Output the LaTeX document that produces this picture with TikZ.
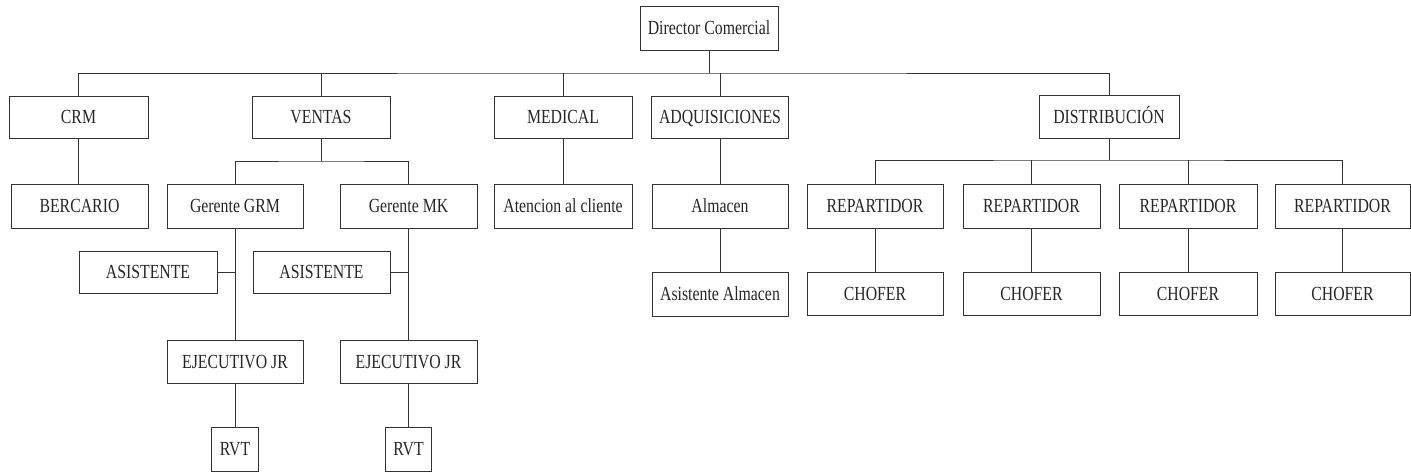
\documentclass[tikz,border=0pt]{standalone}
\usepackage{fontspec}
\setmainfont{Liberation Serif}[FakeStretch=0.79]
\begin{document}
\begin{tikzpicture}[x=1pt,y=-1pt,
  box/.style={draw=black!80, line width=0.9pt, minimum height=43pt, inner sep=0pt,
    text height=13.2pt, text depth=0pt,
    font=\fontsize{20}{22}\selectfont, text=black!85},
  conn/.style={draw=black!80, line width=0.9pt}]
\useasboundingbox (0,0) rectangle (1411,472);
% level 0
\node[box, minimum width=138pt, minimum height=44pt] (dir) at (709,28) {Director Comercial};
% level 1
\node[box, minimum width=139pt, minimum height=42pt] (crm) at (78.5,117) {CRM};
\node[box, minimum width=138pt, minimum height=42pt] (ventas) at (321,117) {VENTAS};
\node[box, minimum width=138pt, minimum height=42pt] (medical) at (563,117) {MEDICAL};
\node[box, minimum width=137pt, minimum height=42pt] (adq) at (720,117) {ADQUISICIONES};
\node[box, minimum width=140pt, minimum height=43pt] (dist) at (1109,116.5) {DISTRIBUCIÓN};
% level 2
\node[box, minimum width=137pt, minimum height=44pt] (bercario) at (79.5,206) {BERCARIO};
\node[box, minimum width=136pt, minimum height=44pt] (grm) at (235,206) {Gerente GRM};
\node[box, minimum width=137pt, minimum height=44pt] (mk) at (408.5,206) {Gerente MK};
\node[box, minimum width=138pt, minimum height=44pt] (atencion) at (563,206) {Atencion al cliente};
\node[box, minimum width=136pt, minimum height=44pt] (almacen) at (720,206) {Almacen};
\node[box, minimum width=136pt, minimum height=44pt] (rep1) at (875,206) {REPARTIDOR};
\node[box, minimum width=137pt, minimum height=44pt] (rep2) at (1031.5,206) {REPARTIDOR};
\node[box, minimum width=138pt, minimum height=44pt] (rep3) at (1188,206) {REPARTIDOR};
\node[box, minimum width=135pt, minimum height=44pt] (rep4) at (1342.5,206) {REPARTIDOR};
% level 3
\node[box, minimum width=138pt, minimum height=42pt] (asis1) at (148,272) {ASISTENTE};
\node[box, minimum width=137pt, minimum height=42pt] (asis2) at (321.5,272) {ASISTENTE};
\node[box, minimum width=136pt, minimum height=44pt] (asalm) at (720,294) {Asistente Almacen};
\node[box, minimum width=136pt, minimum height=43pt] (ch1) at (875,293.5) {CHOFER};
\node[box, minimum width=137pt, minimum height=43pt] (ch2) at (1031.5,293.5) {CHOFER};
\node[box, minimum width=138pt, minimum height=43pt] (ch3) at (1188,293.5) {CHOFER};
\node[box, minimum width=135pt, minimum height=43pt] (ch4) at (1342.5,293.5) {CHOFER};
% level 4
\node[box, minimum width=136pt, minimum height=43pt] (ej1) at (235,361.5) {EJECUTIVO JR};
\node[box, minimum width=137pt, minimum height=43pt] (ej2) at (408.5,361.5) {EJECUTIVO JR};
% level 5
\node[box, minimum width=47pt, minimum height=44pt] (rvt1) at (235,449) {RVT};
\node[box, minimum width=46pt, minimum height=44pt] (rvt2) at (408.5,449) {RVT};
% buses
\coordinate (bus) at (709,73);
\coordinate (vbus) at (321,161);
\coordinate (dbus) at (1109,160);
% connectors
\draw[conn] (dir.south) -- (bus);
\draw[conn] (crm.north) |- (bus) -| (dist.north);
\draw[conn] (ventas.north) -- (ventas.north |- bus);
\draw[conn] (medical.north) -- (medical.north |- bus);
\draw[conn] (adq.north) -- (adq.north |- bus);
\draw[conn] (crm.south) -- (crm.south |- bercario.north);
\draw[conn] (ventas.south) -- (vbus);
\draw[conn] (grm.north) |- (vbus) -| (mk.north);
\draw[conn] (grm.south) -- (ej1.north);
\draw[conn] (mk.south) -- (ej2.north);
\draw[conn] (asis1.east) -- (asis1.east -| grm.south);
\draw[conn] (asis2.east) -- (asis2.east -| mk.south);
\draw[conn] (ej1.south) -- (rvt1.north);
\draw[conn] (ej2.south) -- (rvt2.north);
\draw[conn] (medical.south) -- (atencion.north);
\draw[conn] (adq.south) -- (almacen.north);
\draw[conn] (almacen.south) -- (asalm.north);
\draw[conn] (dist.south) -- (dbus);
\draw[conn] (rep1.north) |- (dbus) -| (rep4.north);
\draw[conn] (rep2.north) -- (rep2.north |- dbus);
\draw[conn] (rep3.north) -- (rep3.north |- dbus);
\draw[conn] (rep1.south) -- (ch1.north);
\draw[conn] (rep2.south) -- (ch2.north);
\draw[conn] (rep3.south) -- (ch3.north);
\draw[conn] (rep4.south) -- (ch4.north);
\end{tikzpicture}
\end{document}
